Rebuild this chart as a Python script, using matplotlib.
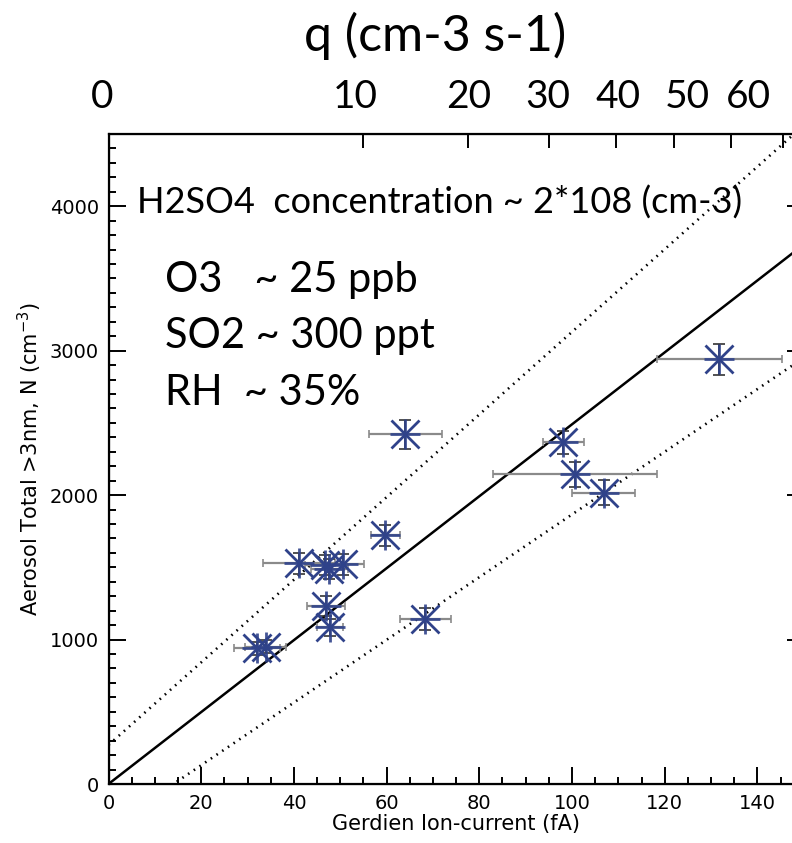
import numpy as np
import matplotlib
matplotlib.use("Agg")
import matplotlib.pyplot as plt
from matplotlib.ticker import MultipleLocator

# ---- data ----
current_fA = [32.0, 33.9, 41.1, 46.8, 47.6, 50.7, 46.9, 47.8, 59.7, 64.0, 68.3, 98.1, 100.6, 106.8, 131.8]
aerosol_N  = [939, 950, 1527, 1515, 1490, 1520, 1232, 1084, 1723, 2422, 1142, 2367, 2145, 2016, 2939]
current_err = [5.0, 4.5, 7.8, 4.5, 4.0, 4.5, 4.1, 2.9, 3.1, 7.9, 5.5, 4.4, 17.7, 6.8, 13.4]
aerosol_err = [45, 45, 70, 70, 70, 70, 70, 60, 73, 100, 75, 80, 87, 87, 110]

fit_slope, fit_intercept = 24.9, 0.0
upper_slope, upper_intercept = 28.6, 270.0
lower_slope, lower_intercept = 21.7, -304.0

q_tick_values = [0, 10, 20, 30, 40, 50, 60, 70]
q_tick_pos_fA = [0, 55, 77.5, 95, 109.5, 122, 134.3, 145.5]
q_label_text = ["0", "10", "20", "30", "40", "50", "60"]
q_label_pos_fA = [-1.4, 53.2, 77.8, 94.8, 110.0, 124.8, 138.0]

W, H = 792, 843
fig = plt.figure(figsize=(W/100, H/100), dpi=100)
left_px, zero_y_px, top_px = 108.5, 784, 134
xmin, xmax, ymin, ymax = 0, 150, 0, 4500
px_per_fA = 4.635
ax = fig.add_axes([left_px/W, (H-zero_y_px)/H, (xmax-xmin)*px_per_fA/W, (zero_y_px-top_px)/H])
ax.set_xlim(xmin, xmax)
ax.set_ylim(ymin, ymax)

xs = np.array([0, xmax])
ax.plot(xs, fit_intercept + fit_slope*xs, color="black", lw=1.8, zorder=2)
ax.plot(xs, upper_intercept + upper_slope*xs, color="black", lw=1.9, ls=(0, (0.6, 2.0)), zorder=2)
ax.plot(xs, lower_intercept + lower_slope*xs, color="black", lw=1.9, ls=(0, (0.6, 2.0)), zorder=2)

ax.errorbar(current_fA, aerosol_N, xerr=current_err, fmt="none", ecolor="#8a8a8a",
            elinewidth=1.6, capsize=3, capthick=1.2, zorder=3)
ax.errorbar(current_fA, aerosol_N, yerr=aerosol_err, fmt="none", ecolor="#333333",
            elinewidth=1.3, capsize=4, capthick=1.2, zorder=3)
star_col = "#2f428a"
ax.plot(current_fA, aerosol_N, ls="none", marker="x", ms=20, mew=2.0, color=star_col, zorder=4)
ax.plot(current_fA, aerosol_N, ls="none", marker="+", ms=22, mew=2.0, color=star_col, zorder=4, alpha=0.9)

ax.xaxis.set_major_locator(MultipleLocator(20))
ax.xaxis.set_minor_locator(MultipleLocator(5))
ax.yaxis.set_major_locator(MultipleLocator(1000))
ax.yaxis.set_minor_locator(MultipleLocator(100))
ax.tick_params(which="both", direction="in", width=1.4, labelsize=14, colors="black")
ax.tick_params(which="major", length=12, pad=7)
ax.tick_params(which="minor", length=5)
ax.tick_params(axis="y", right=True, which="both")
ax.tick_params(axis="x", top=False, which="both")
for s in ax.spines.values():
    s.set_linewidth(1.6)

ax.set_xlabel("Gerdien Ion-current (fA)", fontsize=15, labelpad=1)
ax.set_ylabel("Aerosol Total >3nm, N (cm$^{-3}$)", fontsize=15, labelpad=4)

# top axis with q ticks
axt = ax.twiny()
axt.set_xlim(xmin, xmax)
axt.set_xticks(q_tick_pos_fA)
axt.set_xticklabels([])
axt.tick_params(axis="x", direction="in", length=10, width=1.4)
axt.xaxis.set_minor_locator(plt.NullLocator())

calib = ["Lato", "DejaVu Sans"]
for lab, pos in zip(q_label_text, q_label_pos_fA):
    fig.text((left_px + pos*px_per_fA)/W, 1 - 97/H, lab, ha="center", va="center",
             fontsize=28, family=calib)
fig.text(435/W, 1 - 36/H, "q (cm-3 s-1)", ha="center", va="center", fontsize=36, family=calib)

fig.text(137/W, 1 - 203/H, "H2SO4  concentration ~ 2*108 (cm-3)", ha="left", va="center",
         fontsize=26, family=calib)
for txt, y in zip(["O3   ~ 25 ppb", "SO2 ~ 300 ppt", "RH  ~ 35%"], [280, 336, 393]):
    fig.text(165/W, 1 - y/H, txt, ha="left", va="center", fontsize=30, family=calib)

fig.savefig("out.png", dpi=100)
